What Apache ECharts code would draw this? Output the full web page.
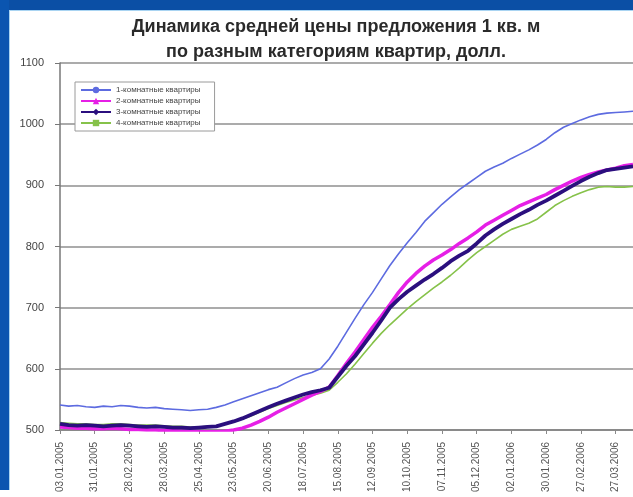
<!DOCTYPE html>
<html>
<head>
<meta charset="utf-8">
<script src="https://cdn.jsdelivr.net/npm/echarts@6/dist/echarts.min.js"></script>
<style>html,body{margin:0;padding:0;background:#fff;}#c{width:633px;height:497px;}</style>
</head>
<body>
<div id="c"></div>
<script>
const titleLines = ['Динамика средней цены предложения 1 кв. м', 'по разным категориям квартир, долл.'];
const seriesNames = ['1-комнатные квартиры', '2-комнатные квартиры', '3-комнатные квартиры', '4-комнатные квартиры'];
const categories = [
 '03.01.2005','10.01.2005','17.01.2005','24.01.2005','31.01.2005',
 '07.02.2005','14.02.2005','21.02.2005','28.02.2005',
 '07.03.2005','14.03.2005','21.03.2005','28.03.2005',
 '04.04.2005','11.04.2005','18.04.2005','25.04.2005',
 '02.05.2005','09.05.2005','16.05.2005','23.05.2005','30.05.2005',
 '06.06.2005','13.06.2005','20.06.2005','27.06.2005',
 '04.07.2005','11.07.2005','18.07.2005','25.07.2005',
 '01.08.2005','08.08.2005','15.08.2005','22.08.2005','29.08.2005',
 '05.09.2005','12.09.2005','19.09.2005','26.09.2005',
 '03.10.2005','10.10.2005','17.10.2005','24.10.2005','31.10.2005',
 '07.11.2005','14.11.2005','21.11.2005','28.11.2005',
 '05.12.2005','12.12.2005','19.12.2005','26.12.2005',
 '02.01.2006','09.01.2006','16.01.2006','23.01.2006','30.01.2006',
 '06.02.2006','13.02.2006','20.02.2006','27.02.2006',
 '06.03.2006','13.03.2006','20.03.2006','27.03.2006',
 '03.04.2006','10.04.2006'
];
const room1 = [541,539,540,538,537,539,538,540,539,537,536,537,535,534,533,532,533,534,537,541,
 546,551,556,561,566,570,577,584,590,594,600,616,637,660,683,705,725,747,769,788,
 806,823,841,855,869,881,893,903,913,923,930,936,944,951,958,966,975,986,995,1001,
 1007,1012,1016,1018,1019,1020,1021];
const room2 = [505,504,503,503,502,502,503,502,501,501,500,500,499,499,498,498,497,497,497,498,
 500,503,508,514,521,529,536,543,550,557,563,570,589,609,628,648,668,686,705,725,
 742,756,768,778,786,795,805,814,824,835,843,851,859,867,873,879,885,893,900,907,
 913,918,922,925,928,932,934];
const room3 = [510,508,507,508,507,506,507,508,507,506,505,506,505,504,504,503,504,505,506,510,
 514,519,525,531,537,543,548,553,558,562,565,569,587,605,621,640,659,679,700,714,
 726,736,746,755,765,776,785,793,805,818,828,837,845,853,860,868,875,883,891,899,
 907,914,920,925,927,929,931];
const room4 = [512,511,510,510,509,509,510,510,509,508,508,508,507,506,506,505,505,506,507,510,
 513,518,523,529,535,540,545,549,553,557,560,565,578,592,608,625,642,658,672,685,
 698,710,721,732,742,753,765,778,790,800,810,820,828,833,838,845,856,867,875,882,
 888,893,897,898,897,897,898];
const yTicks = {min: 500, max: 1100, interval: 100};

const chart = echarts.init(document.getElementById('c'), null, {renderer: 'canvas'});
const colors = ['#5d6be0', '#e61fe6', '#2b0f7e', '#86c24a'];
const widths = [1.6, 3.5, 3.8, 1.6];
const symbols = ['circle', 'triangle', 'diamond', 'rect'];
const datas = [room1, room2, room3, room4];
const zs = [3, 4, 5, 2];
chart.setOption({
  animation: false,
  backgroundColor: '#ffffff',
  title: {
    text: titleLines.join('\n'),
    left: 331, top: 10, textAlign: 'center',
    textStyle: {fontFamily: 'Liberation Sans', fontWeight: 'bold', fontSize: 18, color: '#2a2a2a', lineHeight: 25, align: 'center'}
  },
  legend: {
    orient: 'vertical', left: 75, top: 82,
    itemWidth: 30, itemHeight: 8, itemGap: 3,
    padding: [4, 14, 4, 5],
    backgroundColor: '#fff', borderColor: '#9a9a9a', borderWidth: 1,
    textStyle: {fontFamily: 'Liberation Sans', fontSize: 8, color: '#444'},
    data: seriesNames
  },
  grid: {left: 60, right: -6, top: 63, bottom: 67, containLabel: false},
  xAxis: {
    type: 'category', data: categories, boundaryGap: false,
    axisLine: {lineStyle: {color: '#8a8a8a', width: 2}},
    axisTick: {show: true, interval: 3, length: 4, lineStyle: {color: '#8a8a8a'}},
    axisLabel: {interval: 3, rotate: 90, fontFamily: 'Liberation Sans', fontSize: 10, color: '#555', margin: 12},
    splitLine: {show: false}
  },
  yAxis: {
    type: 'value', min: yTicks.min, max: yTicks.max, interval: yTicks.interval,
    axisLine: {show: true, lineStyle: {color: '#777', width: 1.5}},
    axisTick: {show: true, length: 5, lineStyle: {color: '#777'}},
    axisLabel: {fontFamily: 'Liberation Sans', fontSize: 11, color: '#444', margin: 16, formatter: v => String(v)},
    splitLine: {lineStyle: {color: '#ababab', width: 2}}
  },
  graphic: [
    {type: 'rect', shape: {x: 0, y: 0, width: 633, height: 10}, style: {fill: '#0b4fa5'}, z: 100},
    {type: 'rect', shape: {x: 0, y: 0, width: 9, height: 490}, style: {fill: '#0b55b0'}, z: 100},
    {type: 'line', shape: {x1: 9, y1: 10.5, x2: 633, y2: 10.5}, style: {stroke: '#a9d4f2', lineWidth: 1}, z: 100},
    {type: 'line', shape: {x1: 9.5, y1: 10, x2: 9.5, y2: 490}, style: {stroke: '#a9d4f2', lineWidth: 1}, z: 100}
  ],
  series: seriesNames.map((n, k) => ({
    name: n, type: 'line', data: datas[k], z: zs[k],
    symbol: symbols[k], symbolSize: 6, showSymbol: false,
    lineStyle: {color: colors[k], width: widths[k]},
    itemStyle: {color: colors[k]}
  }))
});
</script>
</body>
</html>
